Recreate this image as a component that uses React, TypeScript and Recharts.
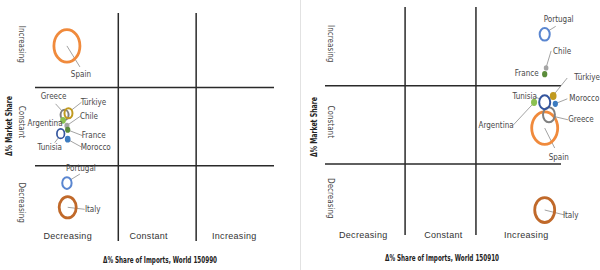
import { ScatterChart, Scatter, XAxis, YAxis, ZAxis, ReferenceLine } from "recharts";

const countries = ["Spain", "Italy", "Portugal", "Greece", "Türkiye", "Chile", "Argentina", "France", "Tunisia", "Morocco"];

// HS 150990
const importShare150990 = [0.34, 0.35, 0.34, 0.31, 0.36, 0.34, 0.29, 0.35, 0.26, 0.35];
const marketShare150990 = [2.53, 0.47, 0.78, 1.65, 1.67, 1.51, 1.58, 1.46, 1.41, 1.34];
const volume150990 = [100, 43, 13, 9.5, 9.5, 1.7, 2.4, 1.9, 8.5, 2.4];

// HS 150910
const importShare150910 = [2.97, 2.97, 2.97, 3.03, 3.09, 2.99, 2.82, 2.97, 2.97, 3.12];
const marketShare150910 = [1.46, 0.41, 2.66, 1.63, 1.87, 2.23, 1.79, 2.15, 1.79, 1.77];
const volume150910 = [100, 59, 15, 21, 3.7, 1.3, 2.9, 1.9, 18, 1.9];

const bandLabels = ["Decreasing", "Constant", "Increasing"];

const colors: Record<string, string> = {
  Spain: "#F08A3C",
  Italy: "#C0692A",
  Portugal: "#5A86D0",
  Greece: "#808080",
  Türkiye: "#C09A20",
  Chile: "#A5A5A5",
  Argentina: "#8CC152",
  France: "#5B8C3A",
  Tunisia: "#34559E",
  Morocco: "#3D7CC0",
};

type LabelPos = [number, number, "start" | "middle" | "end", number | null, number | null];

// label offset from the bubble + leader end
const labels150990: Record<string, LabelPos> = {
  Spain: [14, 29, "middle", 13, 21],
  Italy: [25, 2, "middle", 17, 2],
  Portugal: [14, -15, "middle", 13, -9],
  Greece: [-11, -18, "middle", -9, -11],
  Türkiye: [25, -11, "middle", 13, -11],
  Chile: [22, -9, "middle", 14, -10],
  Argentina: [-18, 3, "middle", -6, 2],
  France: [26, 6, "middle", 15, 6],
  Tunisia: [-11, 14, "middle", -6, 9],
  Morocco: [28, 8, "middle", 14, 8],
};

const labels150910: Record<string, LabelPos> = {
  Spain: [14, 29, "middle", 10, 20],
  Italy: [26, 5, "middle", 20, 5],
  Portugal: [14, -15, "middle", 11, -8],
  Greece: [32, 5, "middle", 19, 5],
  Türkiye: [34, -19, "middle", 14, -18],
  Chile: [16, -16, "middle", 5, -17],
  Argentina: [-38, 23, "middle", -21, 23],
  France: [-6, -1, "end", null, null],
  Tunisia: [-20, -6, "middle", -9, -5],
  Morocco: [29, -5, "middle", 12, -5],
};

const FONT = "'Liberation Sans Narrow', 'DejaVu Sans Condensed', 'Liberation Sans', sans-serif";

function makeBubble(layout: Record<string, LabelPos>) {
  return (props: any) => {
    const { cx, cy, width, payload } = props;
    const r = width / 2;
    const color = colors[payload.name];
    const [dx, dy, anchor, ex, ey] = layout[payload.name];
    const solid = r < 2.6;
    let x1 = cx;
    let y1 = cy;
    if (ex != null && ey != null && r <= 8) {
      const len = Math.hypot(ex, ey) || 1;
      x1 = cx + (ex / len) * r;
      y1 = cy + (ey / len) * r * 1.25;
    }
    return (
      <g>
        {ex != null && ey != null && (
          <line x1={x1} y1={y1} x2={cx + ex} y2={cy + ey} stroke="#8c8c8c" strokeWidth={0.8} />
        )}
        <ellipse
          cx={cx}
          cy={cy}
          rx={r}
          ry={r * 1.25}
          fill={solid ? color : "none"}
          stroke={color}
          strokeWidth={r > 8 ? 2.8 : r > 4 ? 2 : 1.7}
        />
        <text x={cx + dx} y={cy + dy} textAnchor={anchor} dominantBaseline="central" fontSize={8} fill="#484848" fontFamily={FONT}>
          {payload.name}
        </text>
      </g>
    );
  };
}

interface PanelProps {
  rows: { name: string; x: number; y: number; z: number }[];
  layout: Record<string, LabelPos>;
  title: string;
  margin: { top: number; right: number; bottom: number; left: number };
  axisH: number;
  axisW: number;
  xDomain: [number, number];
  yDomain: [number, number];
  xTicks: number[];
  yTicks: number[];
  colDy: number;
  rowDx: number;
  titleX: number;
  titleY: number;
  yTitleX: number;
  yTitleY: number;
}

function Panel(p: PanelProps) {
  return (
    <ScatterChart width={300} height={270} margin={p.margin}>
      <XAxis
        type="number"
        dataKey="x"
        domain={p.xDomain}
        ticks={p.xTicks}
        interval={0}
        height={p.axisH}
        axisLine={false}
        tickLine={false}
        tickSize={0}
        tickMargin={0}
        tick={(t: any) => (
          <text x={t.x} y={t.y + p.colDy} textAnchor="middle" dominantBaseline="central" fontSize={9} fill="#333" fontFamily="'Liberation Sans', sans-serif" letterSpacing={0.3}>
            {bandLabels[p.xTicks.indexOf(t.payload.value)]}
          </text>
        )}
      />
      <YAxis
        type="number"
        dataKey="y"
        domain={p.yDomain}
        ticks={p.yTicks}
        interval={0}
        width={p.axisW}
        axisLine={false}
        tickLine={false}
        tickSize={0}
        tickMargin={0}
        tick={(t: any) => {
          const tx = t.x + p.rowDx;
          return (
            <text x={tx} y={t.y} transform={`rotate(90 ${tx} ${t.y})`} textAnchor="middle" dominantBaseline="central" fontSize={8} fill="#444" fontFamily={FONT}>
              {bandLabels[p.yTicks.indexOf(t.payload.value)]}
            </text>
          );
        }}
      />
      <ZAxis type="number" dataKey="z" domain={[0, 100]} range={[0, Math.PI * 13 * 13]} />
      <ReferenceLine x={1} stroke="#2a2a2a" strokeWidth={1.5} />
      <ReferenceLine x={2} stroke="#2a2a2a" strokeWidth={1.5} />
      <ReferenceLine y={1} stroke="#2a2a2a" strokeWidth={1.5} />
      <ReferenceLine y={2} stroke="#2a2a2a" strokeWidth={1.5} />
      <Scatter data={p.rows} shape={makeBubble(p.layout)} isAnimationActive={false} />
      <text
        x={p.titleX}
        y={p.titleY}
        textAnchor="middle"
        dominantBaseline="central"
        fontSize={8}
        fontWeight="bold"
        fill="#222"
        fontFamily={FONT}
        textLength={114}
        lengthAdjust="spacingAndGlyphs"
      >
        {p.title}
      </text>
      <text
        x={p.yTitleX}
        y={p.yTitleY}
        transform={`rotate(-90 ${p.yTitleX} ${p.yTitleY})`}
        textAnchor="middle"
        dominantBaseline="central"
        fontSize={8.5}
        fontWeight="bold"
        fill="#222"
        fontFamily={FONT}
        textLength={60}
        lengthAdjust="spacingAndGlyphs"
      >
        Δ% Market Share
      </text>
    </ScatterChart>
  );
}

export default function App() {
  const rows150990 = countries.map((name, i) => ({ name, x: importShare150990[i], y: marketShare150990[i], z: volume150990[i] }));
  const rows150910 = countries.map((name, i) => ({ name, x: importShare150910[i], y: marketShare150910[i], z: volume150910[i] }));
  return (
    <div style={{ position: "absolute", left: 0, top: 0, width: 600, height: 270, background: "#fff", fontFamily: FONT }}>
      <div style={{ position: "absolute", left: 0, top: 0 }}>
        <Panel
          rows={rows150990}
          layout={labels150990}
          title="Δ% Share of Imports, World 150990"
          margin={{ top: 13, right: 26, bottom: 0, left: 0 }}
          axisH={29}
          axisW={35}
          xDomain={[-0.07, 3]}
          yDomain={[0.04, 2.95]}
          xTicks={[0.35, 1.39, 2.49]}
          yTicks={[0.53, 1.56, 2.55]}
          colDy={-5}
          rowDx={-14}
          titleX={160}
          titleY={260}
          yTitleX={9}
          yTitleY={126}
        />
      </div>
      <div style={{ position: "absolute", left: 300, top: 0, width: 1, height: 270, background: "#e2e2e2" }} />
      <div style={{ position: "absolute", left: 300, top: 0 }}>
        <Panel
          rows={rows150910}
          layout={labels150910}
          title="Δ% Share of Imports, World 150910"
          margin={{ top: 7, right: 39, bottom: 0, left: 0 }}
          axisH={35}
          axisW={25}
          xDomain={[-0.13, 3.2]}
          yDomain={[0.09, 3.01]}
          xTicks={[0.41, 1.54, 2.71]}
          yTicks={[0.56, 1.54, 2.54]}
          colDy={0}
          rowDx={5.5}
          titleX={142}
          titleY={258}
          yTitleX={13.5}
          yTitleY={127}
        />
      </div>
    </div>
  );
}
